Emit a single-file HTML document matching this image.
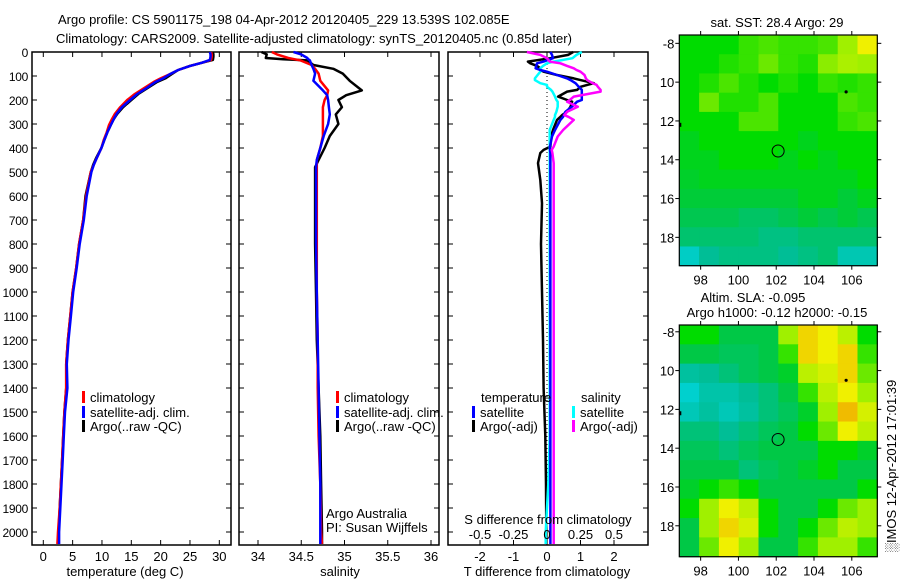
<!DOCTYPE html>
<html><head><meta charset="utf-8"><style>
body{margin:0;background:#fff;}
svg text{font-family:"Liberation Sans",sans-serif;font-size:13px;fill:#000;}
svg text.yl{font-size:12px;letter-spacing:-0.3px;}
</style></head><body>
<svg id="fig" width="900" height="580" viewBox="0 0 900 580" xmlns="http://www.w3.org/2000/svg"></svg>
<script>
// ---- data ----
const depthT = [0,10,20,33,45,58,75,92,110,125,150,175,200,230,258,280,304,335,367,400,442,470,500,600,700,800,900,1000,1100,1200,1300,1400,1500,1600,1700,1800,1900,2000,2050];
const tempArgo = [28.9,29.0,29.0,28.9,27.0,25.0,23.0,21.9,20.8,19.4,17.8,16.2,15.0,13.6,12.6,12.0,11.5,10.9,10.4,9.9,9.0,8.5,8.1,7.2,6.8,6.1,5.6,5.0,4.6,4.2,3.9,3.9,3.6,3.4,3.2,3.0,2.8,2.6,2.5];
const tempClim = [28.6,28.7,28.7,28.6,27.0,25.0,23.0,21.6,20.0,18.8,17.2,15.6,14.3,13.1,12.2,11.7,11.2,10.8,10.3,9.9,9.1,8.6,8.1,7.3,6.8,6.1,5.6,5.0,4.6,4.2,3.9,3.9,3.6,3.4,3.2,3.0,2.8,2.5,2.4];
const tempSat = [28.4,28.5,28.5,28.4,27.0,25.0,23.0,21.6,20.4,19.1,17.6,16.0,14.8,13.4,12.5,12.0,11.5,10.9,10.4,9.9,9.1,8.6,8.2,7.4,6.9,6.2,5.7,5.1,4.7,4.3,4.0,4.1,3.7,3.5,3.3,3.1,2.9,2.7,2.7];

const depthS = [0,10,25,30,35,54,70,90,120,160,180,200,230,260,300,350,400,450,480,600,800,1000,1200,1400,1600,1800,2000,2050];
const salArgo = [34.04,34.1,34.09,34.29,34.57,34.64,34.87,34.98,35.06,35.2,35.02,34.93,34.97,34.9,34.93,34.83,34.77,34.7,34.66,34.66,34.66,34.67,34.68,34.7,34.72,34.73,34.74,34.74];
const salClim = [34.16,34.22,34.35,34.42,34.49,34.62,34.66,34.7,34.72,34.81,34.8,34.77,34.75,34.75,34.75,34.75,34.72,34.68,34.68,34.68,34.68,34.68,34.69,34.69,34.7,34.72,34.73,34.74];
const salSat = [34.41,34.5,34.57,34.58,34.6,34.62,34.64,34.66,34.64,34.75,34.8,34.81,34.82,34.83,34.81,34.76,34.72,34.68,34.67,34.67,34.67,34.68,34.69,34.7,34.71,34.72,34.72,34.72];

const depthD = [0,12,26,40,47,58,68,75,82,96,110,117,130,137,145,158,165,186,200,207,228,249,263,270,283,325,352,394,408,421,463,533,630,800,1000,1200,1400,1600,1800,2000,2050];
const tDiffArgo = [0.78,0.63,0.1,-0.57,-0.5,-0.3,-0.2,-0.2,-0.1,0.3,0.8,1.0,1.4,1.2,1.0,0.9,0.6,0.33,0.6,0.75,0.7,0.6,0.45,0.4,0.3,0.18,0.12,0.1,-0.1,-0.2,-0.27,-0.2,-0.15,-0.18,-0.15,-0.12,-0.1,-0.05,-0.03,-0.02,-0.02];
const tDiffSat = [0.1,0.15,0.18,-0.1,-0.3,-0.32,-0.34,-0.2,0.0,0.3,0.6,0.7,0.85,0.9,0.95,1.04,1.04,1.04,1.04,0.9,0.74,0.55,0.5,0.48,0.4,0.24,0.15,0.09,0.09,0.1,0.1,0.1,0.1,0.1,0.1,0.1,0.1,0.1,0.1,0.1,0.1];
const sDiffSat = [0.26,0.22,0.19,0.05,0.0,-0.03,-0.05,-0.05,-0.05,-0.07,-0.09,-0.09,-0.05,0.0,0.0,0.03,0.04,0.06,0.07,0.08,0.08,0.07,0.06,0.06,0.05,0.02,0.02,0.02,0.02,0.02,0.02,0.02,0.02,0.02,0.02,0.02,0.02,0.02,0.01,-0.01,-0.01];
const sDiffArgo = [-0.15,-0.05,0.0,0.02,0.1,0.15,0.2,0.22,0.25,0.28,0.29,0.3,0.34,0.37,0.38,0.4,0.4,0.2,0.17,0.15,0.23,0.15,0.13,0.16,0.2,0.12,0.08,0.05,0.035,0.04,0.05,0.05,0.05,0.05,0.05,0.05,0.05,0.05,0.05,0.05,0.05];

const depthTicks = [0,100,200,300,400,500,600,700,800,900,1000,1100,1200,1300,1400,1500,1600,1700,1800,1900,2000];
const tempTicks = [0,5,10,15,20,25,30];
const salTicks = [34,34.5,35,35.5,36];
const salTickLabels = ["34","34.5","35","35.5","36"];
const tDiffTicks = [-2,-1,0,1,2];
const sDiffTicks = [-0.5,-0.25,0,0.25,0.5];
const sDiffTickLabels = ["-0.5","-0.25","0","0.25","0.5"];
const lonTicks = [98,100,102,104,106];
const latTicks = [-8,-10,-12,-14,-16,-18];
const latTickLabels = ["-8","10","12","14","16","18"];

const sstGrid = [
[0.55,0.55,0.55,0.6,0.62,0.6,0.6,0.62,0.7,0.85],
[0.55,0.55,0.58,0.6,0.65,0.6,0.58,0.68,0.72,0.7],
[0.55,0.58,0.62,0.58,0.55,0.58,0.55,0.6,0.58,0.6],
[0.55,0.65,0.58,0.58,0.62,0.55,0.55,0.55,0.62,0.6],
[0.55,0.55,0.55,0.62,0.62,0.55,0.55,0.55,0.6,0.62],
[0.53,0.55,0.55,0.55,0.55,0.55,0.53,0.55,0.55,0.55],
[0.53,0.53,0.55,0.55,0.55,0.53,0.55,0.53,0.55,0.55],
[0.52,0.53,0.53,0.53,0.53,0.53,0.53,0.53,0.53,0.55],
[0.51,0.51,0.51,0.51,0.51,0.51,0.53,0.53,0.51,0.53],
[0.49,0.49,0.49,0.47,0.47,0.49,0.51,0.49,0.51,0.49],
[0.46,0.46,0.46,0.46,0.44,0.44,0.46,0.46,0.46,0.46],
[0.32,0.42,0.44,0.44,0.44,0.42,0.44,0.46,0.36,0.36]];
const slaGrid = [
[0.55,0.55,0.5,0.5,0.5,0.7,0.9,0.85,0.75,0.55],
[0.5,0.5,0.48,0.48,0.5,0.6,0.9,0.85,0.9,0.6],
[0.4,0.42,0.45,0.48,0.5,0.52,0.75,0.8,0.9,0.65],
[0.3,0.38,0.38,0.42,0.45,0.5,0.6,0.75,0.85,0.7],
[0.35,0.4,0.35,0.4,0.45,0.48,0.52,0.7,0.95,0.8],
[0.45,0.45,0.42,0.45,0.48,0.5,0.55,0.65,0.85,0.75],
[0.48,0.48,0.45,0.48,0.5,0.5,0.5,0.55,0.55,0.52],
[0.5,0.5,0.5,0.45,0.48,0.5,0.52,0.55,0.5,0.5],
[0.52,0.55,0.6,0.55,0.5,0.5,0.5,0.5,0.5,0.55],
[0.55,0.7,0.85,0.75,0.55,0.5,0.5,0.55,0.65,0.7],
[0.5,0.7,0.9,0.8,0.55,0.5,0.55,0.65,0.75,0.7],
[0.5,0.65,0.85,0.7,0.5,0.5,0.6,0.7,0.7,0.6]];
const argoLon = 102.1, argoLat = -13.55;

// ---- helpers ----
const NS = "http://www.w3.org/2000/svg";
const svg = document.getElementById('fig');
function mk(tag, attrs, parent){ const e=document.createElementNS(NS,tag); for(const k in attrs) e.setAttribute(k,attrs[k]); (parent||svg).appendChild(e); return e; }
function txt(x,y,s,anchor,parent){ const t=mk('text',{x:x,y:y,'text-anchor':anchor||'start'},parent); t.textContent=s; return t; }

const yTop=52, yBot=545;
const yD = d => yTop + d*0.24;
const xT = v => 43.3 + v*5.867;
const xS = v => 258 + (v-34)*86.5;
const xTd = v => 547 + v*33.5;
const xSd = v => 547 + v*134;

function frame(x0,x1,name){
  const r=mk('rect',{x:x0,y:yTop,width:x1-x0,height:yBot-yTop,fill:'none',stroke:'#000','stroke-width':1.5});
  
  
  depthTicks.forEach(d=>{ mk('line',{x1:x0,x2:x0+5,y1:yD(d),y2:yD(d),stroke:'#000'}); mk('line',{x1:x1-5,x2:x1,y1:yD(d),y2:yD(d),stroke:'#000'}); });
}
function xticks(vals,fx,labels,y){
  vals.forEach((v,i)=>{ const x=fx(v); mk('line',{x1:x,x2:x,y1:yBot-5,y2:yBot,stroke:'#000'}); mk('line',{x1:x,x2:x,y1:yTop,y2:yTop+5,stroke:'#000'});
    if(labels){ const t=txt(x,y,labels[i],'middle');   } });
}
function line(depths, vals, fx, color, name, w){
  const pts = depths.map((d,i)=>fx(vals[i]).toFixed(1)+','+yD(d).toFixed(1)).join(' ');
  const p=mk('polyline',{points:pts,fill:'none',stroke:color,'stroke-width':w||2.5,'stroke-linejoin':'round'});
  
  
}
function legend(x,y,color,label){
  mk('rect',{x:x,y:y-6,width:3,height:12,fill:color});
  const t=txt(x+8,y+5,label);
  
  
}

// titles
let t=txt(58,24,"Argo profile: CS 5901175_198 04-Apr-2012 20120405_229 13.539S 102.085E");  
t=txt(56,43,"Climatology: CARS2009. Satellite-adjusted climatology: synTS_20120405.nc (0.85d later)");  

// depth labels
depthTicks.forEach(d=>{ const e=txt(28,yD(d)+5,String(d),'end'); e.setAttribute('class','yl');   });

// panel 1 temperature
frame(32,231,'temperature-panel');
xticks(tempTicks,xT,tempTicks.map(String),561);
line(depthT,tempArgo,xT,'#000','temp-argo-line');
line(depthT,tempClim,xT,'#f00','temp-clim-line');
line(depthT,tempSat,xT,'#00f','temp-sat-line');
t=txt(125,576,"temperature (deg C)",'middle');  
legend(82,397,'#f00','climatology');legend(82,412,'#00f','satellite-adj. clim.');legend(82,426,'#000','Argo(..raw -QC)');

// panel 2 salinity
frame(239,439,'salinity-panel');
xticks(salTicks,xS,salTickLabels,561);
line(depthS,salArgo,xS,'#000','sal-argo-line');
line(depthS,salClim,xS,'#f00','sal-clim-line');
line(depthS,salSat,xS,'#00f','sal-sat-line');
t=txt(340,576,"salinity",'middle');  
legend(336,397,'#f00','climatology');legend(336,412,'#00f','satellite-adj. clim.');legend(336,426,'#000','Argo(..raw -QC)');
t=txt(326,518,"Argo Australia");  
t=txt(326,532,"PI: Susan Wijffels");  

// panel 3 differences
frame(448,648,'difference-panel');
xticks(tDiffTicks,xTd,tDiffTicks.map(String),561);
mk('line',{x1:xTd(0),x2:xTd(0),y1:yTop,y2:yBot,stroke:'#000','stroke-dasharray':'1,3'});
line(depthD,tDiffArgo,xTd,'#000','tdiff-argo-line');
line(depthD,sDiffSat,xSd,'#0ff','sdiff-sat-line');
line(depthD,tDiffSat,xTd,'#00f','tdiff-sat-line');
line(depthD,sDiffArgo,xSd,'#f0f','sdiff-argo-line');
sDiffTicks.forEach((v,i)=>{ const e=txt(xSd(v),539,sDiffTickLabels[i],'middle');   });
t=txt(548,524,"S difference from climatology",'middle');  
t=txt(547,576,"T difference from climatology",'middle');  
t=txt(481,402,"temperature");  
t=txt(581,402,"salinity");  
legend(472,412,'#00f','satellite');legend(472,426,'#000','Argo(-adj)');
legend(572,412,'#0ff','satellite');legend(572,426,'#f0f','Argo(-adj)');

// maps
const cstops=[[0,[0,60,255]],[0.25,[0,215,230]],[0.42,[0,190,150]],[0.5,[0,200,70]],[0.55,[0,220,0]],[0.7,[160,240,0]],[0.85,[240,240,0]],[1,[240,160,0]]];
function cmap(v){ for(let i=1;i<cstops.length;i++){ if(v<=cstops[i][0]){ const a=cstops[i-1],b=cstops[i],f=(v-a[0])/(b[0]-a[0]); return 'rgb('+a[1].map((c,k)=>Math.round(c+(b[1][k]-c)*f)).join(',')+')'; } } return 'rgb(240,160,0)'; }
function drawMap(grid, y0, y1, latTop, name){
  const x0=679.3,x1=877.3, lonL=96.87, lonR=107.35;
  const fx = lon => x0 + (lon-lonL)*(x1-x0)/(lonR-lonL);
  const fy = lat => y0 + (latTop-lat)*19.4;
  const g=mk('g',{});  
  const nr=grid.length,nc=grid[0].length, cw=(x1-x0)/nc, ch=(y1-y0)/nr;
  grid.forEach((row,r)=>row.forEach((v,c)=>{ const cell=mk('rect',{x:x0+c*cw,y:y0+r*ch,width:cw+0.6,height:ch+0.6,fill:cmap(v)},g);
     }));
  mk('rect',{x:x0,y:y0,width:x1-x0,height:y1-y0,fill:'none',stroke:'#000','stroke-width':1.2});
  lonTicks.forEach(l=>{ const x=fx(l); mk('line',{x1:x,x2:x,y1:y0-4,y2:y0,stroke:'#000'}); mk('line',{x1:x,x2:x,y1:y1,y2:y1+4,stroke:'#000'}); txt(x,y1+19,String(l),'middle'); });
  latTicks.forEach((l,i)=>{ const y=fy(l); mk('line',{x1:x0-4,x2:x0,y1:y,y2:y,stroke:'#000'}); mk('line',{x1:x1,x2:x1+4,y1:y,y2:y,stroke:'#000'}); txt(x0-5,y+5,latTickLabels[i],'end'); });
  const c=mk('circle',{cx:fx(argoLon),cy:fy(argoLat),r:6,fill:'none',stroke:'#000','stroke-width':1});
   
  mk('circle',{cx:fx(105.7),cy:fy(-10.5),r:1.6,fill:'#000'});
  mk('rect',{x:x0,y:fy(-12.2)-2,width:2,height:4,fill:'#000'});
}
drawMap(sstGrid,35,265.7,-7.57,'sst-map');
drawMap(slaGrid,325,556.7,-7.65,'sla-map');
t=txt(777,27,"sat. SST: 28.4 Argo: 29",'middle');  
t=txt(753,302,"Altim. SLA: -0.095",'middle');  
t=txt(777,317,"Argo h1000: -0.12 h2000: -0.15",'middle');  
t=txt(0,0,"\u2591IMOS 12-Apr-2012 17:01:39",'middle'); t.setAttribute('transform','translate(896,466) rotate(-90)');
 
</script>
</body></html>
